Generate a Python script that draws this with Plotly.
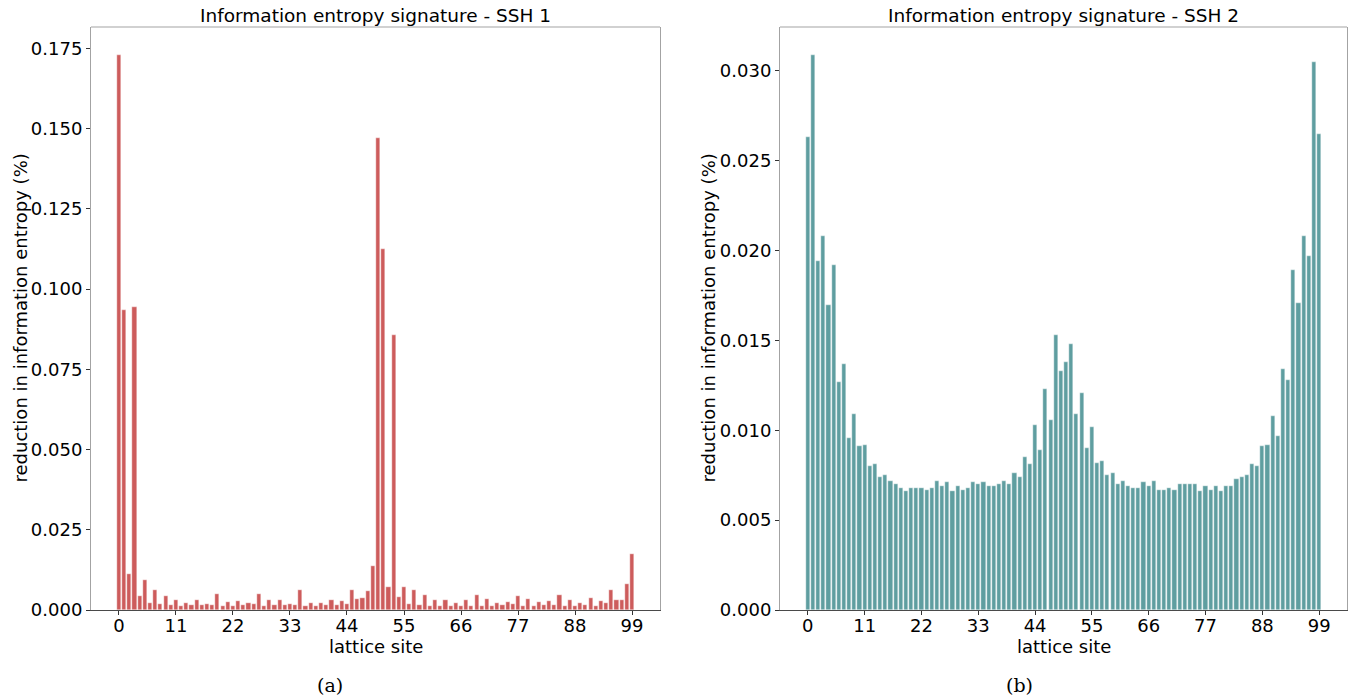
import plotly.graph_objects as go

sites = list(range(100))

ssh1 = [0.1730, 0.0935, 0.0111, 0.0945, 0.0043, 0.0092, 0.0023, 0.0061, 0.0018, 0.0043,
        0.0015, 0.0031, 0.0014, 0.0023, 0.0017, 0.0030, 0.0015, 0.0020, 0.0015, 0.0051,
        0.0014, 0.0025, 0.0014, 0.0029, 0.0017, 0.0023, 0.0018, 0.0051, 0.0014, 0.0030,
        0.0017, 0.0030, 0.0017, 0.0020, 0.0017, 0.0061, 0.0014, 0.0023, 0.0014, 0.0023,
        0.0017, 0.0030, 0.0017, 0.0027, 0.0018, 0.0061, 0.0035, 0.0037, 0.0060, 0.0137,
        0.1470, 0.1125, 0.0071, 0.0856, 0.0039, 0.0071, 0.0018, 0.0061, 0.0017, 0.0048,
        0.0014, 0.0030, 0.0014, 0.0032, 0.0014, 0.0023, 0.0014, 0.0032, 0.0014, 0.0048,
        0.0014, 0.0035, 0.0014, 0.0023, 0.0017, 0.0026, 0.0019, 0.0043, 0.0014, 0.0035,
        0.0014, 0.0026, 0.0017, 0.0027, 0.0017, 0.0048, 0.0012, 0.0032, 0.0014, 0.0023,
        0.0017, 0.0037, 0.0014, 0.0029, 0.0023, 0.0061, 0.0032, 0.0030, 0.0081, 0.0175]

ssh2 = [0.0263, 0.0309, 0.0194, 0.0208, 0.0170, 0.0192, 0.0127, 0.0137, 0.0096, 0.0109,
        0.0091, 0.0092, 0.0080, 0.0081, 0.0074, 0.0075, 0.0072, 0.0070, 0.0068, 0.0066,
        0.0068, 0.0068, 0.0068, 0.0067, 0.0068, 0.0072, 0.0069, 0.0071, 0.0066, 0.0069,
        0.0067, 0.0068, 0.0071, 0.0070, 0.0071, 0.0069, 0.0069, 0.0070, 0.0072, 0.0070,
        0.0076, 0.0074, 0.0085, 0.0081, 0.0103, 0.0089, 0.0123, 0.0106, 0.0153, 0.0133,
        0.0138, 0.0148, 0.0109, 0.0121, 0.0090, 0.0102, 0.0082, 0.0083, 0.0075, 0.0076,
        0.0070, 0.0072, 0.0069, 0.0068, 0.0068, 0.0071, 0.0069, 0.0072, 0.0067, 0.0067,
        0.0068, 0.0067, 0.0070, 0.0070, 0.0070, 0.0070, 0.0066, 0.0069, 0.0067, 0.0069,
        0.0066, 0.0069, 0.0069, 0.0073, 0.0074, 0.0075, 0.0081, 0.0080, 0.0091, 0.0092,
        0.0108, 0.0097, 0.0134, 0.0128, 0.0189, 0.0171, 0.0208, 0.0197, 0.0305, 0.0265]

x_ticks = [0, 11, 22, 33, 44, 55, 66, 77, 88, 99]
y1_ticks = [0.0, 0.025, 0.05, 0.075, 0.1, 0.125, 0.15, 0.175]
y2_ticks = [0.0, 0.005, 0.01, 0.015, 0.02, 0.025, 0.03]

titles = ["Information entropy signature - SSH 1", "Information entropy signature - SSH 2"]
x_label = "lattice site"
y_label = "reduction in information entropy (%)"
captions = ["(a)", "(b)"]

W, H = 1353, 698
H_EFF = 688
FONT = "DejaVu Sans"
frame = "#a3a3a3"
bottom = "#4a4a4a"

fig = go.Figure()
fig.add_trace(go.Bar(x=sites, y=ssh1, width=0.8, marker=dict(color="#CD5C5C", line=dict(color="white", width=0.4)),
                     xaxis="x", yaxis="y", showlegend=False))
fig.add_trace(go.Bar(x=sites, y=ssh2, width=0.8, marker=dict(color="#5F9EA0", line=dict(color="white", width=0.4)),
                     xaxis="x2", yaxis="y2", showlegend=False))

def px_x(p):
    return p / W

def px_y(p):
    return 1 - p / H_EFF

left_dom = [px_x(91), px_x(660)]
right_dom = [px_x(780), px_x(1347)]
y_dom = [px_y(610), px_y(27)]

xr = [-5.39, 104.39]
common_x = dict(range=xr, tickmode="array", tickvals=x_ticks, ticktext=[str(t) for t in x_ticks],
                showgrid=False, zeroline=False, showline=True, linecolor=bottom, linewidth=1, mirror=False,
                ticks="outside", ticklen=4, tickcolor="#333", ticklabelstandoff=-5,
                tickfont=dict(family=FONT, size=18, color="black"))
common_y = dict(showgrid=False, zeroline=False, showline=True, linecolor=frame, linewidth=1, mirror=True,
                ticks="outside", ticklen=4, tickcolor="#333", tickfont=dict(family=FONT, size=18, color="black"),
                tickformat=".3f", tickmode="array")

fig.update_layout(
    width=W, height=H, autosize=False, margin=dict(l=0, r=0, t=0, b=0),
    paper_bgcolor="white", plot_bgcolor="white",
    bargap=0,
    xaxis=dict(domain=left_dom, anchor="y", **common_x),
    yaxis=dict(domain=y_dom, anchor="x", range=[0, max(ssh1) * 1.05], tickvals=y1_ticks, **common_y),
    xaxis2=dict(domain=right_dom, anchor="y2", **common_x),
    yaxis2=dict(domain=y_dom, anchor="x2", range=[0, max(ssh2) * 1.05], tickvals=y2_ticks, **common_y),
)

# top spines (lighter, like the other frame sides)
for xa, ya in [("x", "y"), ("x2", "y2")]:
    fig.add_shape(type="line", xref=f"{xa} domain", yref=f"{ya} domain", x0=0, x1=1, y0=1, y1=1,
                  line=dict(color=frame, width=1))

ann = []
for i, (dom, cap_x, ylab_x) in enumerate([(left_dom, 330, 20), (right_dom, 1019, 708)]):
    cx = (dom[0] + dom[1]) / 2
    ann.append(dict(text=titles[i], x=cx, y=px_y(15), xref="paper", yref="paper", showarrow=False,
                    xanchor="center", yanchor="middle", font=dict(family=FONT, size=18.5, color="black")))
    ann.append(dict(text=x_label, x=cx, y=px_y(646), xref="paper", yref="paper", showarrow=False,
                    xanchor="center", yanchor="middle", font=dict(family=FONT, size=18, color="black")))
    ann.append(dict(text=y_label, x=px_x(ylab_x), y=(y_dom[0] + y_dom[1]) / 2, xref="paper", yref="paper",
                    showarrow=False, textangle=-90, xanchor="center", yanchor="middle",
                    font=dict(family=FONT, size=18, color="black")))
    ann.append(dict(text=captions[i], x=px_x(cap_x), y=px_y(685), xref="paper", yref="paper", showarrow=False,
                    xanchor="center", yanchor="middle", font=dict(family="DejaVu Serif", size=19, color="black")))
fig.update_layout(annotations=ann)

fig.write_html("out.html",
               config={"responsive": False, "displayModeBar": False},
               post_script="document.documentElement.style.margin='0';document.body.style.margin='0';"
                           "document.documentElement.style.overflow='hidden';document.body.style.overflow='hidden';")
